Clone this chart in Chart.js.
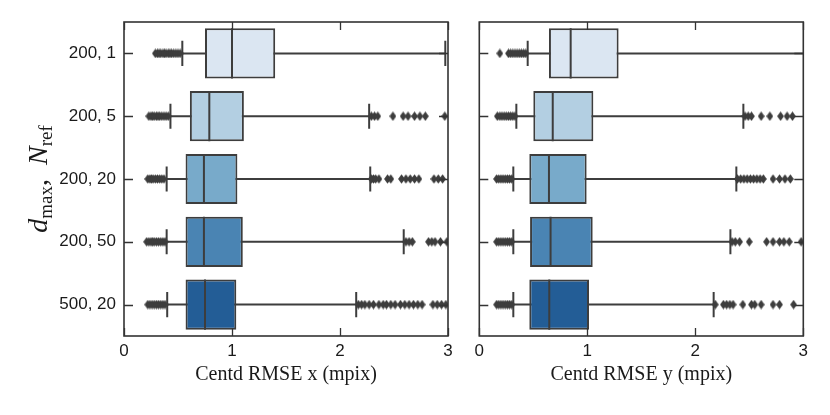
<!DOCTYPE html>
<html>
<head>
<meta charset="utf-8">
<script src="https://cdn.jsdelivr.net/npm/chart.js@4.4.1/dist/chart.umd.min.js"></script>
<style>
    html, body { margin: 0; padding: 0; background: #fff; }
    #wrap { position: relative; width: 830px; height: 415px; }
    #leftChart { position: absolute; left: 0; top: 0; }
    #rightChart { position: absolute; left: 460px; top: 0; }
</style>
</head>
<body>
<div id="wrap">
    <canvas id="leftChart" width="460" height="415"></canvas>
    <canvas id="rightChart" width="370" height="415"></canvas>
</div>
<script>
const categories = ["200, 1", "200, 5", "200, 20", "200, 50", "500, 20"];
const boxColors = ["#dbe6f2", "#b3cfe2", "#78aaca", "#4a84b3", "#235d96"];
const xTicks = [0, 1, 2, 3];

// Centd RMSE x
const xWhiskerLow = [0.54, 0.43, 0.395, 0.395, 0.40];
const xQ1 = [0.75, 0.61, 0.57, 0.57, 0.57];
const xMedian = [1.00, 0.79, 0.74, 0.74, 0.75];
const xQ3 = [1.40, 1.11, 1.05, 1.10, 1.04];
const xWhiskerHigh = [2.975, 2.27, 2.28, 2.59, 2.15];
const xOutliers = [
    [0.29, 0.31, 0.325, 0.34, 0.36, 0.375, 0.39, 0.41, 0.425, 0.44, 0.46, 0.48, 0.50, 0.52],
    [0.23, 0.25, 0.265, 0.28, 0.30, 0.315, 0.33, 0.35, 0.37, 0.39, 0.41, 2.29, 2.32, 2.35, 2.49, 2.585, 2.63, 2.69, 2.74, 2.79, 2.97],
    [0.22, 0.24, 0.255, 0.27, 0.29, 0.31, 0.33, 0.35, 0.37, 2.29, 2.31, 2.33, 2.36, 2.44, 2.47, 2.57, 2.61, 2.65, 2.69, 2.73, 2.87, 2.91, 2.95],
    [0.21, 0.23, 0.25, 0.265, 0.28, 0.30, 0.32, 0.34, 0.36, 0.38, 2.61, 2.64, 2.67, 2.82, 2.85, 2.88, 2.93, 2.99],
    [0.22, 0.24, 0.26, 0.28, 0.30, 0.32, 0.34, 0.36, 0.38, 2.17, 2.20, 2.23, 2.27, 2.31, 2.36, 2.40, 2.43, 2.47, 2.51, 2.56, 2.60, 2.64, 2.68, 2.72, 2.76, 2.86, 2.90, 2.94, 2.98]
];

// Centd RMSE y
const yWhiskerLow = [0.448, 0.343, 0.315, 0.315, 0.315];
const yQ1 = [0.645, 0.50, 0.463, 0.47, 0.463];
const yMedian = [0.846, 0.68, 0.645, 0.66, 0.648];
const yQ3 = [1.29, 1.056, 0.994, 1.05, 1.016];
const yWhiskerHigh = [3.05, 2.445, 2.38, 2.325, 2.17];
const yOutliers = [
    [0.19, 0.27, 0.29, 0.31, 0.33, 0.35, 0.37, 0.39, 0.41, 0.43],
    [0.167, 0.19, 0.21, 0.23, 0.25, 0.27, 0.29, 0.31, 0.33, 2.46, 2.49, 2.52, 2.61, 2.69, 2.79, 2.85, 2.90],
    [0.16, 0.18, 0.20, 0.22, 0.24, 0.26, 0.28, 0.30, 2.39, 2.42, 2.45, 2.48, 2.51, 2.54, 2.57, 2.60, 2.63, 2.72, 2.78, 2.83, 2.88],
    [0.16, 0.18, 0.20, 0.22, 0.24, 0.26, 0.28, 0.30, 2.34, 2.37, 2.41, 2.50, 2.66, 2.72, 2.78, 2.82, 2.87, 2.98],
    [0.16, 0.18, 0.20, 0.22, 0.24, 0.26, 0.28, 0.30, 2.185, 2.26, 2.29, 2.32, 2.35, 2.44, 2.52, 2.55, 2.61, 2.72, 2.78, 2.91]
];

const edgeColor = "#3d3d3d";
const frameColor = "#333333";
const tickFont = { family: "'Liberation Sans', Arial, sans-serif", size: 17 };

// thin diamond marker like matplotlib's "d"
function diamondMarker() {
    const c = document.createElement("canvas");
    c.width = 7;
    c.height = 10;
    const g = c.getContext("2d");
    g.fillStyle = edgeColor;
    g.beginPath();
    g.moveTo(3.5, 0.2);
    g.lineTo(6.9, 5);
    g.lineTo(3.5, 9.8);
    g.lineTo(0.1, 5);
    g.closePath();
    g.fill();
    return c;
}
const marker = diamondMarker();

const frameTicks = {
    id: "frameTicks",
    afterDatasetsDraw(chart) {
        const { ctx, chartArea: a, scales } = chart;
        ctx.save();
        ctx.strokeStyle = frameColor;
        ctx.lineWidth = 1.6;
        ctx.strokeRect(a.left, a.top, a.right - a.left, a.bottom - a.top);
        ctx.lineWidth = 1.3;
        ctx.beginPath();
        xTicks.forEach(v => {
            const px = Math.round(scales.x.getPixelForValue(v)) + 0.5;
            ctx.moveTo(px, a.top); ctx.lineTo(px, a.top + 8);
            ctx.moveTo(px, a.bottom); ctx.lineTo(px, a.bottom - 8);
        });
        categories.forEach((c, i) => {
            const py = Math.round(scales.y.getPixelForValue(i)) + 0.5;
            ctx.moveTo(a.left, py); ctx.lineTo(a.left + 9, py);
            ctx.moveTo(a.right, py); ctx.lineTo(a.right - 9, py);
        });
        ctx.stroke();
        ctx.restore();
    }
};

const yLabel = {
    id: "yLabel",
    afterDraw(chart) {
        const ctx = chart.ctx;
        const big = "italic 28px 'Liberation Serif', serif";
        const small = "19px 'Liberation Serif', serif";
        const roman = "28px 'Liberation Serif', serif";
        const parts = [
            { t: "d", f: big, dy: 0 },
            { t: "max", f: small, dy: 5 },
            { t: ",", f: roman, dy: 0 },
            { t: "  ", f: roman, dy: 0 },
            { t: "N", f: big, dy: 0 },
            { t: "ref", f: small, dy: 5 }
        ];
        ctx.save();
        let total = 0;
        parts.forEach(p => { ctx.font = p.f; p.w = ctx.measureText(p.t).width; total += p.w; });
        const cy = (chart.chartArea.top + chart.chartArea.bottom) / 2;
        ctx.translate(47, cy);
        ctx.rotate(-Math.PI / 2);
        ctx.fillStyle = "#1a1a1a";
        ctx.textBaseline = "alphabetic";
        let x = -total / 2;
        parts.forEach(p => {
            ctx.font = p.f;
            ctx.fillText(p.t, x, p.dy);
            x += p.w;
        });
        ctx.restore();
    }
};

function makePanel(canvasId, lo, q1, med, q3, hi, outliers, titleText, showLabels, yWidth, padRight) {
    const boxData = categories.map((c, i) => ({ x: [q1[i], q3[i]], y: i }));
    const whiskers = [];
    const caps = [];
    const medians = [];
    const fliers = [];
    categories.forEach((c, i) => {
        whiskers.push({ x: lo[i], y: i }, { x: hi[i], y: i }, { x: null, y: null });
        caps.push({ x: lo[i], y: i - 0.2 }, { x: lo[i], y: i + 0.2 }, { x: null, y: null });
        caps.push({ x: hi[i], y: i - 0.2 }, { x: hi[i], y: i + 0.2 }, { x: null, y: null });
        medians.push({ x: med[i], y: i - 0.4 }, { x: med[i], y: i + 0.4 }, { x: null, y: null });
        outliers[i].forEach(v => fliers.push({ x: v, y: i }));
    });
    const lineDefaults = {
        type: "line",
        borderColor: edgeColor,
        borderWidth: 2,
        pointRadius: 0,
        fill: false,
        spanGaps: false
    };
    return new Chart(document.getElementById(canvasId), {
        type: "bar",
        data: {
            datasets: [
                { ...lineDefaults, data: whiskers, order: 4 },
                {
                    type: "bar",
                    data: boxData,
                    backgroundColor: boxColors,
                    borderColor: edgeColor,
                    borderWidth: 2,
                    borderSkipped: false,
                    barPercentage: 0.8,
                    categoryPercentage: 1.0,
                    order: 3
                },
                { ...lineDefaults, data: caps, order: 2 },
                { ...lineDefaults, data: medians, order: 1 },
                {
                    type: "scatter",
                    data: fliers,
                    pointStyle: marker,
                    pointRadius: 4,
                    order: 0
                }
            ]
        },
        options: {
            indexAxis: "y",
            responsive: false,
            animation: false,
            events: [],
            layout: { padding: { left: 0, right: padRight, top: 22, bottom: 28 } },
            plugins: { legend: { display: false }, tooltip: { enabled: false } },
            scales: {
                x: {
                    type: "linear",
                    min: 0,
                    max: 3,
                    grid: { display: false, drawTicks: false },
                    border: { display: false },
                    ticks: { stepSize: 1, font: tickFont, color: "#1a1a1a", padding: 5 },
                    title: {
                        display: true,
                        text: titleText,
                        color: "#1a1a1a",
                        padding: 0,
                        font: { family: "'Liberation Serif', serif", size: 20, lineHeight: 1.2 }
                    },
                    afterFit(scale) { scale.height = 51; }
                },
                y: {
                    type: "linear",
                    min: -0.5,
                    max: 4.5,
                    reverse: true,
                    offset: false,
                    grid: { display: false, drawTicks: false },
                    border: { display: false },
                    afterBuildTicks(scale) { scale.ticks = categories.map((c, i) => ({ value: i })); },
                    ticks: {
                        display: showLabels,
                        font: tickFont,
                        color: "#1a1a1a",
                        padding: 8,
                        callback: v => categories[v]
                    },
                    afterFit(scale) { scale.width = yWidth; }
                }
            }
        },
        plugins: showLabels ? [frameTicks, yLabel] : [frameTicks]
    });
}

makePanel("leftChart", xWhiskerLow, xQ1, xMedian, xQ3, xWhiskerHigh, xOutliers, "Centd RMSE x (mpix)", true, 124, 12);
makePanel("rightChart", yWhiskerLow, yQ1, yMedian, yQ3, yWhiskerHigh, yOutliers, "Centd RMSE y (mpix)", false, 19.3, 26.7);
</script>
</body>
</html>
